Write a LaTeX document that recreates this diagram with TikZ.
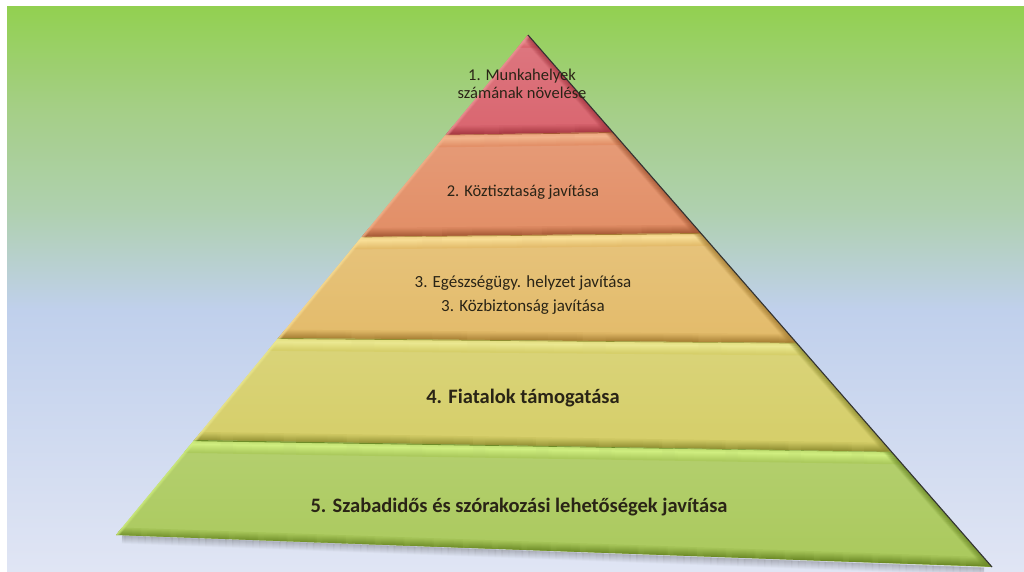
\documentclass[tikz,border=0pt]{standalone}
\usepackage{fontspec}
\setmainfont{Carlito}
\usetikzlibrary{calc}
\definecolor{bgA}{RGB}{146,208,80}
\definecolor{bgB}{RGB}{165,207,135}
\definecolor{bgC}{RGB}{175,208,175}
\definecolor{bgD}{RGB}{192,208,236}
\definecolor{bgE}{RGB}{224,229,244}
\pgfdeclareverticalshading{bgshade}{100bp}{color(0bp)=(bgE); color(25bp)=(bgE); color(48.1bp)=(bgD); color(56.9bp)=(bgC); color(65.8bp)=(bgB); color(75bp)=(bgA); color(100bp)=(bgA)}
\definecolor{t1}{RGB}{217,101,111}
\definecolor{t1l}{RGB}{236,150,150}
\definecolor{t1d}{RGB}{165,55,65}
\definecolor{t2}{RGB}{226,142,102}
\definecolor{t2l}{RGB}{242,180,140}
\definecolor{t2d}{RGB}{165,88,52}
\definecolor{t3}{RGB}{227,187,106}
\definecolor{t3l}{RGB}{248,222,150}
\definecolor{t3d}{RGB}{165,125,50}
\definecolor{t4}{RGB}{213,206,104}
\definecolor{t4l}{RGB}{235,232,145}
\definecolor{t4d}{RGB}{145,143,50}
\definecolor{t5}{RGB}{170,201,92}
\definecolor{t5l}{RGB}{208,238,128}
\definecolor{t5d}{RGB}{110,140,40}
\definecolor{txt}{RGB}{42,36,22}
% #1 TL, #2 TR, #3 BL, #4 BR, #5 base, #6 light, #7 dark
\newcommand\pyrtier[7]{%
  \shade[top color=#5!88!white, bottom color=#5] (#1) -- (#2) -- (#4) -- (#3) -- cycle;
  \begin{scope}
    \clip (#1) -- (#2) -- (#4) -- (#3) -- cycle;
    \foreach \o [evaluate=\o as \p using {int(max(0,100-abs(\o-4)*12))}] in {1,...,12}
      \draw[#6!\p!#5, line width=1.3pt] ($(#1)+(-30,\o)$) -- ($(#2)+(30,\o)$);
    \draw[#7, line width=1.3pt] ($(#1)+(-30,0)$) -- ($(#2)+(30,0)$);
    \foreach \o [evaluate=\o as \p using {int(100-\o*11)}] in {0,...,8}
      \draw[#7!\p!#5, line width=1.3pt] ($(#3)+(-30,-\o)$) -- ($(#4)+(30,-\o)$);
    \foreach \o [evaluate=\o as \q using {(9-\o)/14}] in {0,...,8}
      \draw[#7, opacity=\q, line width=1.3pt] ($(#2)+(-\o,0)$) -- ($(#4)+(-\o,0)$);
    \foreach \o [evaluate=\o as \q using {(4-\o)/6}] in {0,...,3}
      \draw[#6, opacity=\q, line width=1.3pt] ($(#1)+(\o,0)$) -- ($(#3)+(\o,0)$);
  \end{scope}
}
\begin{document}
\begin{tikzpicture}[x=1pt,y=-1pt,
  lbl/.style={text=txt, inner sep=0pt, align=center},
  small/.style={lbl, font=\fontsize{16.5}{18.5}\selectfont},
  mid/.style={lbl, font=\fontsize{17}{24}\selectfont},
  big/.style={lbl, font=\bfseries\fontsize{20.5}{24}\selectfont}]
\useasboundingbox (0,0) rectangle (1024,571);
\fill[white] (0,0) rectangle (1024,571);
\shade[shading=bgshade] (7,6) rectangle (1024,571);

\coordinate (A) at (528,35);
\coordinate (b1l) at (445.6,135);
\coordinate (b1r) at (612.6,132);
\coordinate (b2l) at (361.6,237);
\coordinate (b2r) at (700.7,233);
\coordinate (b3l) at (278.3,338);
\coordinate (b3r) at (796.6,343);
\coordinate (b4l) at (194.3,440);
\coordinate (b4r) at (891.6,452);
\coordinate (Bl) at (116,535);
\coordinate (Br) at (992,567);

% shadow under the base
\foreach \o [evaluate=\o as \q using {(9-\o)/30}] in {1,...,8}
  \draw[black!70, opacity=\q, line width=1.3pt] ($(Bl)+(6,\o)$) -- ($(Br)+(-8,\o)$);

\pyrtier{A}{A}{b1l}{b1r}{t1}{t1l}{t1d}
\pyrtier{b1l}{b1r}{b2l}{b2r}{t2}{t2l}{t2d}
\pyrtier{b2l}{b2r}{b3l}{b3r}{t3}{t3l}{t3d}
\pyrtier{b3l}{b3r}{b4l}{b4r}{t4}{t4l}{t4d}
\pyrtier{b4l}{b4r}{Bl}{Br}{t5}{t5l}{t5d}

\draw[black!80, line width=1.1pt] (A) -- (Br);

\node[small] (n1) at (522,84) {1. Munkahelyek\\számának növelése};
\node[small] (n2) at (523,192) {2. Köztisztaság javítása};
\node[mid] (n3) at (523,295) {3. Egészségügy. helyzet javítása\\3. Közbiztonság javítása};
\node[big] (n4) at (523,398) {4. Fiatalok támogatása};
\node[big] (n5) at (519,507) {5. Szabadidős és szórakozási lehetőségek javítása};
\end{tikzpicture}
\end{document}
